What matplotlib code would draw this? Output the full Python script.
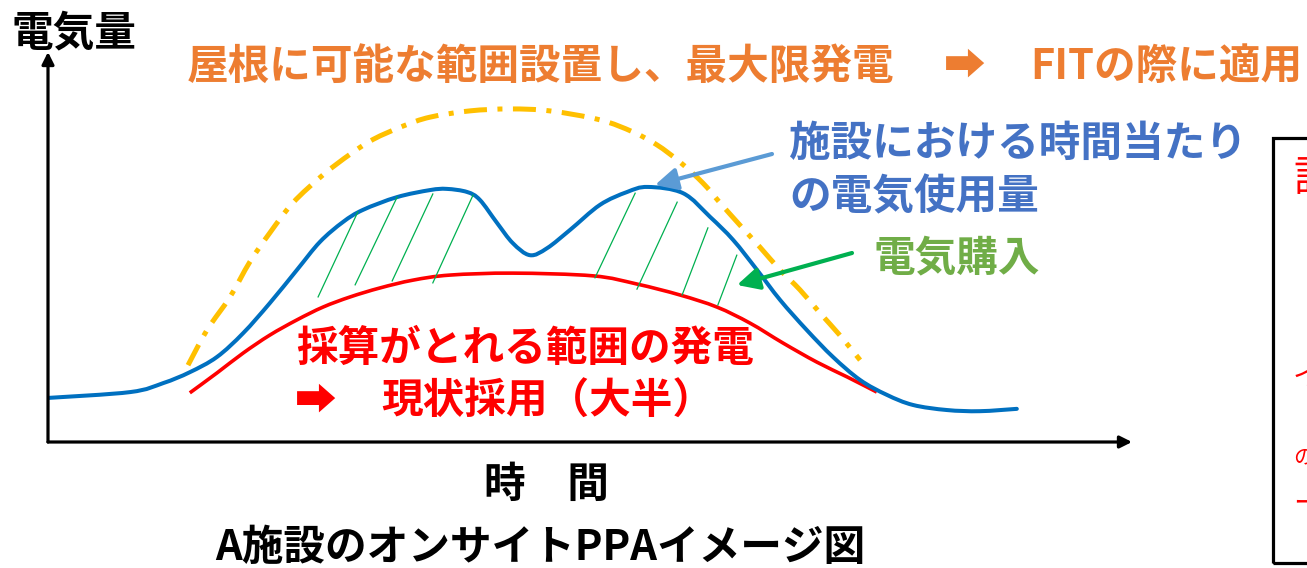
import matplotlib
matplotlib.use("Agg")
import matplotlib.pyplot as plt
import numpy as np
from matplotlib.patches import Rectangle, PathPatch
from matplotlib.path import Path

plt.rcParams["font.family"] = ["Noto Sans CJK JP", "DejaVu Sans"]

W, H = 1307, 568

# time (h) / electricity amount (arbitrary units, 0-100)
usage_t = [0.0, 1.82, 2.55, 3.14, 3.74, 4.32, 4.91, 5.51, 6.02, 6.53, 6.97, 7.73,
           8.46, 8.83, 9.28, 9.56, 9.94, 10.29, 10.67, 11.05, 11.56, 12.22, 12.82,
           13.28, 14.06, 14.66, 15.17, 15.70, 16.21, 16.80, 17.38, 17.98, 18.57,
           19.15, 19.90, 20.63, 21.45]
usage_v = [11.3, 12.8, 15.1, 17.9, 21.8, 27.9, 35.6, 44.1, 51.3, 56.4, 59.5, 62.8,
           64.6, 64.9, 64.1, 62.1, 56.2, 51.0, 47.9, 49.7, 54.4, 60.8, 64.1,
           65.4, 63.8, 57.7, 51.8, 44.1, 36.4, 28.7, 21.8, 15.9, 12.1,
           9.5, 8.2, 7.9, 8.5]

pv_now_t = [3.14, 3.74, 4.32, 4.91, 5.51, 6.09, 6.69, 7.35, 8.08, 8.90, 10.29,
            12.07, 13.04, 13.99, 14.81, 15.54, 16.27, 17.02, 17.69, 18.35]
pv_now_v = [12.6, 17.7, 22.8, 27.4, 31.3, 34.6, 37.2, 39.5, 41.5, 42.8, 43.3,
            42.6, 40.5, 37.7, 34.6, 30.5, 25.4, 20.5, 16.7, 12.8]

pv_max_t = [3.10, 3.52, 4.03, 4.47, 4.91, 5.42, 6.09, 6.69, 7.20, 7.86, 8.46,
            9.34, 10.23, 11.11, 12.22, 12.95, 13.48, 13.99, 14.50, 14.88, 15.32,
            15.76, 16.21, 16.65, 17.09, 17.53, 17.98]
pv_max_v = [19.7, 28.7, 37.2, 46.2, 53.6, 61.3, 68.5, 73.8, 77.6, 81.0, 83.3,
            84.9, 85.4, 84.9, 82.6, 79.5, 76.2, 71.8, 66.4, 61.3, 55.6,
            50.0, 44.1, 39.0, 33.1, 27.4, 21.0]

# hatch strokes for purchased electricity (start -> end)
hatch_t0 = [5.98, 6.80, 7.62, 8.52, 12.11, 13.04, 14.04, 14.83]
hatch_v0 = [37.2, 40.3, 41.3, 40.8, 42.1, 39.2, 37.7, 35.1]
hatch_t1 = [6.86, 7.73, 8.52, 9.41, 13.00, 13.93, 14.61, 15.25]
hatch_v1 = [59.0, 62.8, 63.6, 63.3, 63.8, 61.5, 54.9, 47.9]

BLUE = "#0070C0"
RED = "#FF0000"
GOLD = "#FFC000"
GREEN = "#00B050"


def fx(x):
    return x / W


def fy(y):
    return 1 - y / H


def smooth_path(t, v):
    """Catmull-Rom through the read points, drawn as cubic Bezier segments."""
    p = np.column_stack([t, v])
    p = np.vstack([p[0], p, p[-1]])
    verts = [p[1]]
    codes = [Path.MOVETO]
    for i in range(1, len(p) - 2):
        c1 = p[i] + (p[i + 1] - p[i - 1]) / 6
        c2 = p[i + 1] - (p[i + 2] - p[i]) / 6
        verts += [c1, c2, p[i + 1]]
        codes += [Path.CURVE4] * 3
    return Path(verts, codes)


fig = plt.figure(figsize=(W / 100, H / 100), dpi=100)
ax = fig.add_axes([fx(48), fy(442), (1132 - 48) / W, (442 - 52) / H])
ax.set_xlim(0, 24)
ax.set_ylim(0, 100)
ax.axis("off")

# axes arrows
arrow = dict(arrowstyle="-|>", lw=2.3, color="black", mutation_scale=18,
             shrinkA=0, shrinkB=0)
ax.annotate("", xy=(0, 1), xytext=(0, 0), xycoords="axes fraction", arrowprops=arrow)
ax.annotate("", xy=(1, 0), xytext=(0, 0), xycoords="axes fraction", arrowprops=arrow)

for t0, v0, t1, v1 in zip(hatch_t0, hatch_v0, hatch_t1, hatch_v1):
    ax.plot([t0, t1], [v0, v1], color=GREEN, lw=0.9)

ax.add_patch(PathPatch(smooth_path(pv_max_t, pv_max_v), fill=False, edgecolor=GOLD,
                       lw=3.6, capstyle="butt", linestyle=(0, (4.6, 2.1, 1, 2.1))))
ax.add_patch(PathPatch(smooth_path(pv_now_t, pv_now_v), fill=False, edgecolor=RED,
                       lw=2.6))
ax.add_patch(PathPatch(smooth_path(usage_t, usage_v), fill=False, edgecolor=BLUE,
                       lw=2.9, joinstyle="round", capstyle="round"))

# pointer arrows (figure pixel positions)
ax.annotate("", xy=(fx(655), fy(185)), xytext=(fx(772), fy(154)),
            xycoords="figure fraction",
            arrowprops=dict(arrowstyle="-|>,head_length=0.6,head_width=0.3", lw=3,
                            color="#5B9BD5", mutation_scale=22, shrinkA=0, shrinkB=0))
ax.annotate("", xy=(fx(737), fy(285)), xytext=(fx(852), fy(253)),
            xycoords="figure fraction",
            arrowprops=dict(arrowstyle="-|>,head_length=0.6,head_width=0.3", lw=3,
                            color=GREEN, mutation_scale=22, shrinkA=0, shrinkB=0))

FS = 30
bold = dict(fontsize=FS, fontweight="bold", va="center")
fig.text(fx(12), fy(33), "電気量", color="black", ha="left", **bold)
fig.text(fx(187), fy(67), "屋根に可能な範囲設置し、最大限発電", color="#ED7D31", ha="left", **bold)
fig.text(fx(965), fy(67), "➡", color="#ED7D31", ha="center", **bold)
fig.text(fx(1030), fy(67), "FITの際に適用", color="#ED7D31", ha="left", **bold)
fig.text(fx(789), fy(144), "施設における時間当たり", color="#4472C4", ha="left", **bold)
fig.text(fx(789), fy(197), "の電気使用量", color="#4472C4", ha="left", **bold)
fig.text(fx(874), fy(258), "電気購入", color="#70AD47", ha="left", **bold)
fig.text(fx(296), fy(349), "採算がとれる範囲の発電", color=RED, ha="left", **bold)
fig.text(fx(316), fy(402), "➡", color=RED, ha="center", **bold)
fig.text(fx(381), fy(402), "現状採用（大半）", color=RED, ha="left", **bold)
fig.text(fx(546), fy(485), "時　間", color="black", ha="center", **bold)
fig.text(fx(540), fy(548), "A施設のオンサイトPPAイメージ図", color="black", ha="center", **bold)

# partially visible note box at right edge (cut off in the original too)
fig.add_artist(Rectangle((fx(1273), fy(563)), (1330 - 1273) / W, (563 - 138) / H,
                         transform=fig.transFigure, fill=False, lw=2.3,
                         edgecolor="black"))
thin = dict(color=RED, ha="left", va="center", fontweight="normal")
fig.text(fx(1293), fy(179), "語", fontsize=30, **thin)
fig.text(fx(1293), fy(377), "イ", fontsize=20, **thin)
fig.text(fx(1301), fy(428), "・", fontsize=14, **thin)
fig.text(fx(1293), fy(457), "の", fontsize=15, **thin)
fig.text(fx(1293), fy(503), "ー", fontsize=20, **thin)

fig.savefig("out.png", dpi=100)
